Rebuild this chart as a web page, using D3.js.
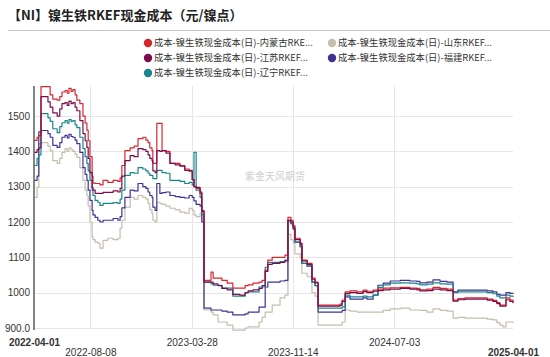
<!DOCTYPE html>
<html><head><meta charset="utf-8">
<script src="https://cdn.jsdelivr.net/npm/d3@7"></script>
<style>
body{margin:0;background:#fff;}
svg{display:block;font-family:"Noto Sans CJK SC","Noto Sans",sans-serif;}
</style></head><body>
<svg id="chart" width="550" height="357"></svg>
<script>
const title = "【NI】镍生铁RKEF现金成本（元/镍点）";
const watermark = "紫金天风期货";
const seriesNames = [
  "成本-镍生铁现金成本(日)-内蒙古RKE...",
  "成本-镍生铁现金成本(日)-山东RKEF...",
  "成本-镍生铁现金成本(日)-江苏RKEF...",
  "成本-镍生铁现金成本(日)-福建RKEF...",
  "成本-镍生铁现金成本(日)-辽宁RKEF..."
];
const seriesColors = ["#d8262f", "#c6bdad", "#7d0c4c", "#3d3396", "#17868b"];
const drawOrder = [1, 3, 4, 0, 2];
const yTicks = [900, 1000, 1100, 1200, 1300, 1400, 1500];
const xTickLabels = ["2022-04-01", "2022-08-08", "2023-03-28", "2023-11-14", "2024-07-03", "2025-04-01"];

const dates = ["2022-04-01","2022-04-08","2022-04-12","2022-04-17","2022-05-03","2022-05-08","2022-05-14","2022-05-24","2022-05-30","2022-06-04",
"2022-06-11","2022-06-16","2022-06-20","2022-06-25","2022-06-29","2022-07-04","2022-07-08","2022-07-15","2022-07-22","2022-07-27",
"2022-07-31","2022-08-03","2022-08-07","2022-08-12","2022-08-14","2022-08-19","2022-08-25","2022-08-30","2022-09-06","2022-09-17",
"2022-09-29","2022-10-10","2022-10-15","2022-10-19","2022-10-26","2022-11-07","2022-11-16","2022-11-25","2022-12-06","2022-12-13",
"2022-12-18","2022-12-22","2022-12-27","2022-12-29","2023-01-03","2023-01-07","2023-01-14","2023-01-19","2023-01-28","2023-02-06",
"2023-02-18","2023-03-01","2023-03-12","2023-03-22","2023-03-29","2023-04-02","2023-04-07","2023-04-16","2023-04-20","2023-04-25",
"2023-05-11","2023-05-16","2023-05-27","2023-06-05","2023-06-17","2023-06-30","2023-07-16","2023-07-28","2023-08-04","2023-08-15",
"2023-08-29","2023-09-05","2023-09-12","2023-09-18","2023-09-28","2023-10-16","2023-10-27","2023-11-03","2023-11-10","2023-11-15",
"2023-11-19","2023-12-01","2023-12-05","2023-12-17","2023-12-28","2024-01-04","2024-01-11","2024-02-07","2024-03-01","2024-03-06",
"2024-03-13","2024-03-24","2024-04-09","2024-04-23","2024-05-02","2024-05-16","2024-05-27","2024-06-08","2024-06-24","2024-07-17",
"2024-08-08","2024-08-24","2024-08-31","2024-09-16","2024-09-30","2024-10-16","2024-11-01","2024-11-15","2024-11-26","2024-12-12",
"2025-01-04","2025-02-01","2025-02-14","2025-02-23","2025-03-02","2025-03-09","2025-03-16","2025-03-25","2025-04-01"];

const neimenggu = [1431,1440,1445,1583,1583,1560,1548,1545,1555,1568,
1572,1565,1578,1570,1575,1560,1545,1535,1500,1480,
1460,1430,1385,1330,1310,1309,1309,1305,1318,1312,
1318,1315,1325,1360,1402,1410,1415,1436,1440,1432,
1425,1410,1402,1366,1366,1479,1479,1402,1400,1366,
1366,1360,1350,1346,1320,1300,1295,1281,1233,1035,
1058,1041,1041,1035,1027,1013,1013,1020,1022,1027,
1030,1035,1064,1092,1100,1100,1106,1213,1205,1190,
1154,1140,1092,1083,1041,1030,965,965,968,979,
1002,1005,1002,1007,1004,1007,1010,1013,1014,1015,
1013,1012,1008,1010,1015,1012,1010,979,983,985,
985,982,978,972,965,965,985,979,973];

const shandong = [1270,1298,1422,1425,1415,1402,1374,1366,1380,1397,
1408,1400,1410,1405,1400,1392,1383,1354,1318,1290,
1275,1245,1200,1157,1150,1143,1140,1126,1148,1154,
1150,1154,1182,1205,1242,1270,1265,1275,1270,1265,
1253,1235,1224,1205,1200,1256,1253,1250,1245,1239,
1235,1228,1225,1239,1233,1220,1215,1225,1200,951,
945,937,917,917,908,894,894,900,903,903,
917,931,945,945,965,985,993,1165,1150,1140,
1110,1100,1055,1045,1000,990,908,908,908,917,
951,948,945,945,945,945,945,950,954,956,
951,951,950,945,954,950,948,928,930,928,
928,925,923,915,908,903,917,917,914];

const jiangsu = [1397,1405,1410,1555,1540,1525,1509,1500,1520,1535,
1538,1530,1542,1535,1538,1525,1515,1487,1450,1430,
1411,1380,1340,1298,1290,1281,1281,1281,1284,1284,
1288,1285,1295,1330,1374,1388,1385,1408,1405,1400,
1390,1380,1374,1345,1340,1402,1400,1402,1395,1366,
1362,1358,1346,1344,1320,1300,1298,1285,1230,1030,
1030,1025,1020,1012,1008,995,993,1000,1005,1008,
1012,1020,1060,1080,1083,1086,1090,1205,1200,1185,
1150,1138,1090,1080,1038,1028,962,962,964,975,
998,1000,998,1003,1000,1004,1006,1008,1010,1012,
1010,1008,1005,1006,1010,1008,1006,976,980,982,
982,979,975,969,962,962,980,975,970];

const fujian = [1318,1330,1455,1459,1450,1440,1417,1411,1425,1440,
1445,1438,1448,1442,1440,1432,1422,1397,1354,1335,
1318,1290,1261,1233,1220,1213,1205,1200,1205,1205,
1210,1205,1215,1240,1270,1290,1288,1309,1300,1295,
1285,1275,1270,1242,1233,1309,1281,1283,1285,1275,
1272,1270,1268,1275,1270,1260,1250,1245,1200,956,
951,951,951,948,945,937,937,940,945,945,
959,959,1016,1030,1030,1033,1035,1205,1195,1180,
1143,1130,1083,1075,1030,1020,945,945,945,950,
988,982,982,985,982,993,1021,1027,1033,1035,
1033,1032,1028,1030,1036,1032,1030,1002,1007,1007,
1007,1005,1002,995,993,993,1000,998,1000];

const liaoning = [1360,1380,1390,1507,1495,1485,1464,1453,1470,1481,
1487,1480,1490,1485,1487,1475,1467,1440,1408,1385,
1366,1345,1318,1290,1275,1261,1256,1247,1253,1253,
1255,1253,1265,1290,1332,1340,1338,1354,1350,1345,
1338,1332,1332,1323,1323,1346,1346,1340,1338,1318,
1318,1315,1309,1312,1305,1397,1290,1270,1220,1030,
1025,1021,1021,1013,1013,990,990,1000,1002,1002,
1016,1016,1072,1086,1086,1088,1092,1200,1196,1180,
1143,1130,1083,1075,1030,1020,956,956,956,960,
993,988,988,990,988,993,1015,1022,1027,1028,
1027,1025,1022,1024,1028,1025,1024,1000,1002,1002,
1002,1000,997,990,985,985,993,990,988];

const seriesValues = [neimenggu, shandong, jiangsu, fujian, liaoning];

const parse = d3.timeParse("%Y-%m-%d");
const svg = d3.select("#chart");
const W = 550, H = 357;
const m = {left: 34, right: 37, top: 86, bottom: 29};

const x = d3.scaleTime().domain([parse("2022-04-01"), parse("2025-04-01")]).range([m.left, W - m.right]);
const y = d3.scaleLinear().domain([900, 1585]).range([H - m.bottom, m.top]);

// title
svg.append("text").attr("x", 8).attr("y", 20).attr("font-size", 13).attr("font-weight", "bold")
  .attr("fill", "#222").text(title);
svg.append("line").attr("x1", 8).attr("x2", 550).attr("y1", 30.5).attr("y2", 30.5)
  .attr("stroke", "#c8c8c8").attr("stroke-width", 1);

// legend
const legendPos = [[148, 43], [332, 43], [148, 58], [332, 58], [148, 73]];
seriesNames.forEach((n, i) => {
  const g = svg.append("g").attr("transform", `translate(${legendPos[i][0]},${legendPos[i][1]})`);
  g.append("circle").attr("r", 4.2).attr("fill", seriesColors[i]);
  g.append("text").attr("x", 6).attr("y", 3.3).attr("font-size", 9.3).attr("fill", "#333").text(n);
});

// gridlines
svg.append("g").selectAll("line").data(yTicks).join("line")
  .attr("x1", m.left).attr("x2", W - m.right)
  .attr("y1", d => Math.round(y(d)) + 0.5).attr("y2", d => Math.round(y(d)) + 0.5)
  .attr("stroke", "#e6e6e6").attr("stroke-width", 1);
svg.append("g").selectAll("line").data(xTickLabels.slice(1, -1)).join("line")
  .attr("x1", d => Math.round(x(parse(d))) + 0.5).attr("x2", d => Math.round(x(parse(d))) + 0.5)
  .attr("y1", m.top).attr("y2", H - m.bottom)
  .attr("stroke", "#e6e6e6").attr("stroke-width", 1);

// watermark
svg.append("text").attr("x", 245).attr("y", 180).attr("font-size", 10).attr("fill", "#cfcfcf").text(watermark);

// lines
const clip = svg.append("clipPath").attr("id", "clip").append("rect")
  .attr("x", m.left).attr("y", m.top - 1).attr("width", W - m.left - m.right + 1).attr("height", H - m.top - m.bottom + 6);
const line = d3.line().x(d => x(d[0])).y(d => y(d[1])).curve(d3.curveStepAfter);
const gLines = svg.append("g").attr("clip-path", "url(#clip)");
drawOrder.forEach(i => {
  const pts = dates.map((d, k) => [parse(d), seriesValues[i][k]]);
  gLines.append("path").datum(pts).attr("d", line).attr("fill", "none")
    .attr("stroke", seriesColors[i]).attr("stroke-width", 1.2).attr("stroke-linejoin", "round");
});

// y axis
const yAxis = svg.append("g").attr("transform", `translate(${m.left},0)`)
  .call(d3.axisLeft(y).tickValues(yTicks).tickSize(0).tickPadding(4)
    .tickFormat(d => d === 900 ? "900.0" : String(d)));
yAxis.select(".domain").attr("stroke", "#666").attr("stroke-width", 1.6)
  .attr("d", `M0,${m.top}V${H - m.bottom + 2}`);
yAxis.selectAll("text").attr("font-size", 10).attr("fill", "#333")
  .attr("font-family", "'Liberation Sans', Arial, sans-serif");

// x axis
const xAxis = svg.append("g").attr("transform", `translate(0,${H - m.bottom})`)
  .call(d3.axisBottom(x).tickValues(xTickLabels.map(parse)).tickSize(0).tickPadding(0)
    .tickFormat(d3.timeFormat("%Y-%m-%d")));
xAxis.select(".domain").remove();
xAxis.selectAll("text")
  .attr("font-size", 10).attr("fill", "#333")
  .attr("font-family", "'Liberation Sans', Arial, sans-serif")
  .attr("dy", null)
  .attr("y", (d, i) => (i % 2 === 0 ? 18 : 28))
  .attr("font-weight", (d, i) => (i === 0 || i === xTickLabels.length - 1) ? "bold" : "normal");
</script>
</body></html>
